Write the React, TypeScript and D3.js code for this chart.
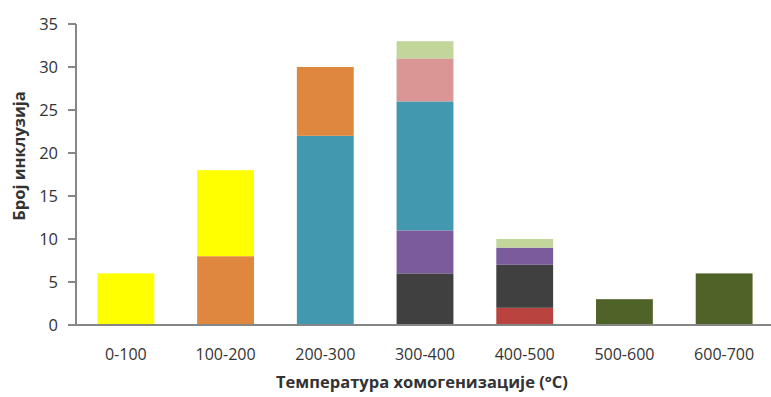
import React from "react";
import * as d3 from "d3";

const categories = ["0-100", "100-200", "200-300", "300-400", "400-500", "500-600", "600-700"];
const seriesNames = ["red", "dark", "purple", "teal", "orange", "yellow", "pink", "lightgreen", "olive"];
const redVals = [0, 0, 0, 0, 2, 0, 0];
const darkVals = [0, 0, 0, 6, 5, 0, 0];
const purpleVals = [0, 0, 0, 5, 2, 0, 0];
const tealVals = [0, 0, 22, 15, 0, 0, 0];
const orangeVals = [0, 8, 8, 0, 0, 0, 0];
const yellowVals = [6, 10, 0, 0, 0, 0, 0];
const pinkVals = [0, 0, 0, 5, 0, 0, 0];
const lightgreenVals = [0, 0, 0, 2, 1, 0, 0];
const oliveVals = [0, 0, 0, 0, 0, 3, 6];
const seriesColors = ["#B8433F", "#404040", "#7B5B9B", "#4298AF", "#DF863F", "#FFFF00", "#D99694", "#C2D69B", "#4F6228"];
const yTicks = [0, 5, 10, 15, 20, 25, 30, 35];

const allVals = [redVals, darkVals, purpleVals, tealVals, orangeVals, yellowVals, pinkVals, lightgreenVals, oliveVals];

export default function App() {
  const W = 771, H = 397;
  const left = 76, right = 774, top = 24, bottom = 325;
  const x = d3.scaleBand().domain(categories).range([left, right]).paddingInner(0.43).paddingOuter(0.215);
  const y = d3.scaleLinear().domain([0, 35]).range([bottom, top]);
  const rows = categories.map((c, i) => {
    const r: any = { cat: c };
    seriesNames.forEach((s, j) => (r[s] = allVals[j][i]));
    return r;
  });
  const stacked = d3.stack().keys(seriesNames)(rows);
  const font = "'Open Sans', 'Liberation Sans', sans-serif";
  return (
    <svg width={W} height={H} style={{ position: "absolute", left: 0, top: 0 }} fontFamily={font}>
      <rect width={W} height={H} fill="#fff" />
      {stacked.map((layer, j) =>
        layer.map((d, i) =>
          d[1] - d[0] > 0 ? (
            <rect key={`${j}-${i}`} x={x(categories[i])} width={x.bandwidth()} y={y(d[1])} height={y(d[0]) - y(d[1])} fill={seriesColors[j]} />
          ) : null
        )
      )}
      <line x1={left} x2={left} y1={top} y2={bottom} stroke="#868686" strokeWidth={2} />
      <line x1={left - 1} x2={W} y1={bottom} y2={bottom} stroke="#868686" strokeWidth={2} />
      {yTicks.map((t) => (
        <g key={t}>
          <line x1={left - 8} x2={left} y1={y(t)} y2={y(t)} stroke="#868686" strokeWidth={2} />
          <text x={58} y={y(t)} dy="0.35em" textAnchor="end" fontSize={16.5} fill="#333">{t}</text>
        </g>
      ))}
      {categories.map((c) => (
        <text key={c} x={(x(c) as number) + x.bandwidth() / 2} y={354} dy="0.35em" textAnchor="middle" fontSize={16} fill="#333">{c}</text>
      ))}
      <text x={422} y={382} dy="0.35em" textAnchor="middle" fontSize={16.5} fontWeight="bold" fill="#333">Температура хомогенизације (°C)</text>
      <text transform={`translate(19,156) rotate(-90)`} dy="0.35em" textAnchor="middle" fontSize={16.5} fontWeight="bold" fill="#333">Број инклузија</text>
    </svg>
  );
}
